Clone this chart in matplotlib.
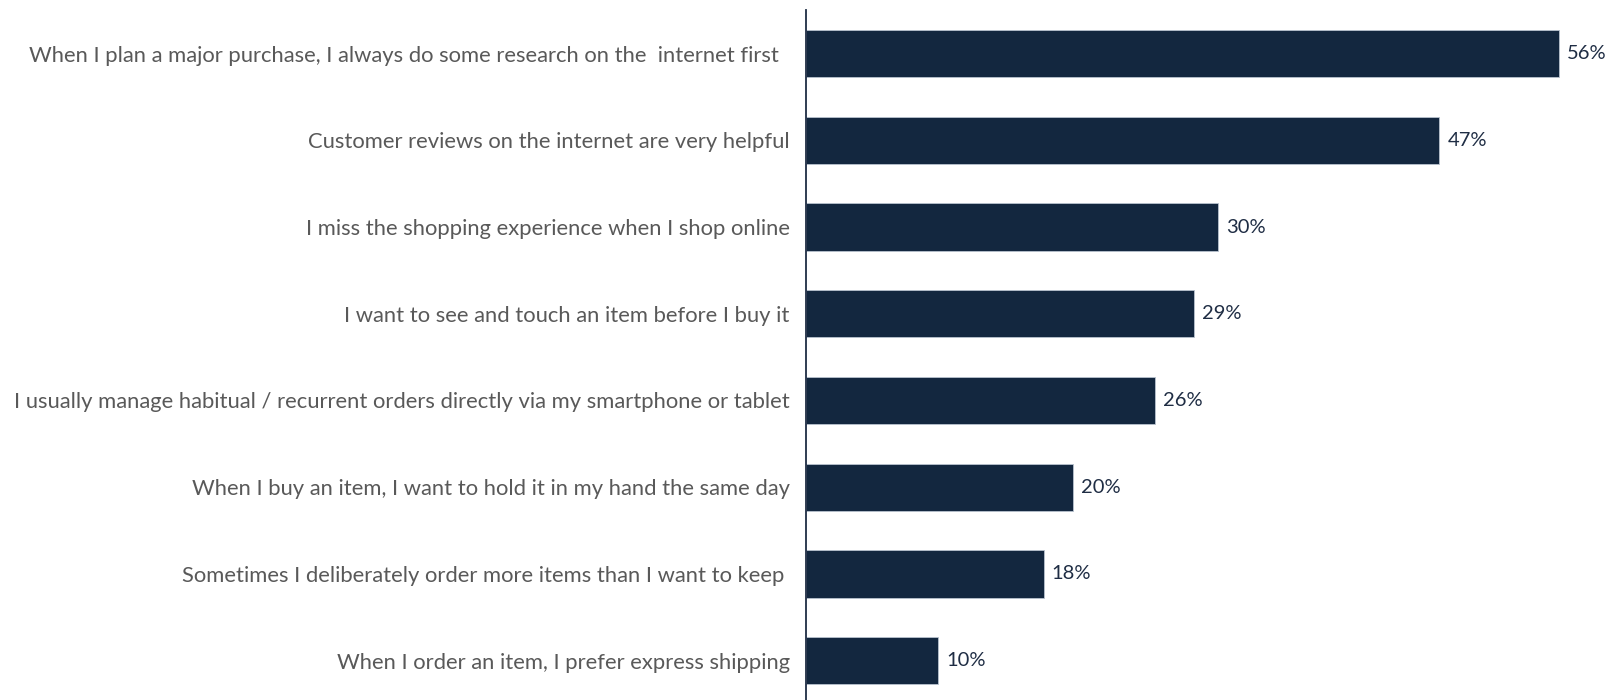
import matplotlib
matplotlib.use("Agg")
import matplotlib.pyplot as plt

categories = [
    "When I plan a major purchase, I always do some research on the  internet first  ",
    "Customer reviews on the internet are very helpful",
    "I miss the shopping experience when I shop online",
    "I want to see and touch an item before I buy it",
    "I usually manage habitual / recurrent orders directly via my smartphone or tablet",
    "When I buy an item, I want to hold it in my hand the same day",
    "Sometimes I deliberately order more items than I want to keep ",
    "When I order an item, I prefer express shipping",
]
# bar lengths (labels show rounded values)
values = [56.1, 47.2, 30.7, 28.9, 26.0, 19.9, 17.7, 9.8]
value_labels = ["56%", "47%", "30%", "29%", "26%", "20%", "18%", "10%"]

plt.rcParams['font.family'] = ['Lato', 'DejaVu Sans']

fig = plt.figure(figsize=(16.11, 7.00), dpi=100)
ax = fig.add_axes([0.5006, -0.0057, 0.4994, 0.9910])

ypos = list(range(len(categories)))
ax.barh(ypos, values, height=0.545, color="#13273f", edgecolor="#b8c2ce", linewidth=0.6)
ax.set_xlim(0, 60)
ax.set_ylim(7.5, -0.5)

for y, v, lab in zip(ypos, values, value_labels):
    ax.annotate(lab, (v, y), xytext=(8, 0), textcoords="offset pixels",
                ha="left", va="center", fontsize=14.5, color="#1f2d44")

ax.set_yticks(ypos)
ax.set_yticklabels(categories, fontsize=15.8, color="#595959")
ax.tick_params(axis="y", length=0, pad=12)
ax.set_xticks([])
for s in ["top", "right", "bottom"]:
    ax.spines[s].set_visible(False)
ax.spines["left"].set_color("#1f2d44")
ax.spines["left"].set_linewidth(1.3)

fig.savefig("out.png", dpi=100)
